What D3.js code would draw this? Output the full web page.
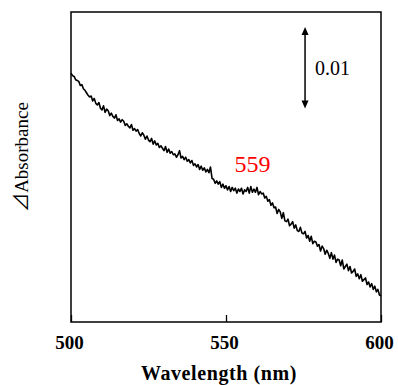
<!DOCTYPE html>
<html>
<head>
<meta charset="utf-8">
<script src="https://cdn.jsdelivr.net/npm/d3@7"></script>
<style>
  body { margin: 0; background: #fff; }
</style>
</head>
<body>
<div id="graph"></div>
<script>
// wavelength axis, 500-600 nm in 0.5 nm steps
let waveStart = 500,
  waveStep = 0.5;

// difference absorbance, in mAbs (x 10^-3)
let dAbs = [
  30.5, 30.2, 30.1, 29.7, 29.6, 29.5, 29.0, 29.1, 28.6, 28.4,
  28.1, 27.8, 27.6, 27.7, 27.1, 27.4, 26.8, 26.6, 26.9, 26.2,
  26.0, 26.5, 25.7, 26.1, 25.9, 25.3, 25.6, 25.2, 25.0, 25.4,
  24.7, 24.9, 24.5, 24.8, 24.6, 24.1, 24.3, 24.0, 23.8, 24.2,
  23.5, 23.7, 23.4, 23.6, 23.1, 22.8, 23.2, 22.9, 22.4, 22.8,
  22.3, 22.1, 22.5, 21.8, 22.2, 21.7, 21.9, 21.4, 21.6, 21.3,
  21.0, 21.5, 20.8, 21.2, 20.7, 20.9, 20.5, 20.6, 20.2, 20.5,
  21.0, 20.1, 20.3, 19.9, 20.2, 19.7, 19.9, 19.5, 19.8, 19.2,
  19.4, 19.0, 19.3, 18.7, 19.1, 18.6, 18.9, 18.4, 18.7, 18.3,
  19.0, 17.6, 17.5, 17.0, 17.3, 16.9, 17.2, 16.5, 16.9, 16.4,
  16.7, 16.2, 16.6, 16.0, 16.5, 16.1, 16.4, 15.8, 16.3, 16.0,
  16.4, 15.7, 16.2, 16.0, 16.5, 15.8, 16.6, 15.9, 16.3, 15.9,
  16.5, 15.6, 16.0, 15.7, 15.8, 15.2, 15.4, 14.8, 15.0, 14.3,
  14.6, 14.0, 14.1, 13.3, 13.8, 13.5, 12.7, 13.4, 12.4, 12.3,
  12.6, 11.8, 12.0, 12.3, 11.5, 11.9, 11.2, 11.1, 11.6, 10.9,
  10.8, 11.1, 10.3, 10.6, 9.9, 10.5, 9.6, 9.9, 9.8, 9.3,
  9.5, 8.7, 9.3, 9.0, 8.3, 8.8, 8.4, 7.8, 8.5, 7.7,
  8.2, 7.3, 7.7, 7.6, 6.9, 7.6, 6.5, 6.8, 7.1, 6.3,
  6.8, 6.0, 6.2, 6.5, 5.6, 5.9, 5.3, 5.8, 5.0, 5.2,
  5.4, 4.6, 4.9, 4.3, 4.7, 4.0, 4.4, 3.7, 4.0, 3.3,
  3.2,
];

let xTicks = [500, 550, 600];
let scaleBarValue = 10; // mAbs, shown as 0.01
let scaleBarLabel = "0.01";
let peakWave = 559;
let peakLabel = "559";

let serif = "Liberation Serif";

let margin = { top: 12, right: 17, bottom: 63, left: 71 },
  width = 398 - margin.left - margin.right,
  height = 385 - margin.top - margin.bottom;

let svg = d3
  .select("#graph")
  .append("svg")
  .attr("width", 398)
  .attr("height", 385)
  .append("g")
  .attr("transform", "translate(" + margin.left + "," + margin.top + ")");

let x = d3.scaleLinear().domain([500, 600]).range([0, width]);
let y = d3.scaleLinear().domain([0, 38]).range([height, 0]);

let points = dAbs.map((v, i) => ({ w: waveStart + i * waveStep, a: v }));

// spectrum
svg
  .append("path")
  .datum(points)
  .attr("fill", "none")
  .attr("stroke", "#000")
  .attr("stroke-width", 1.6)
  .attr("stroke-linejoin", "round")
  .attr("d", d3.line().x((d) => x(d.w)).y((d) => y(d.a)));

// x axis: ticks pointing inward, labels below
let xAxis = svg
  .append("g")
  .attr("transform", "translate(0," + height + ")")
  .call(d3.axisBottom(x).tickValues(xTicks).tickSize(-7).tickPadding(14));
xAxis.select(".domain").remove();
xAxis.selectAll("line").attr("stroke", "#000").attr("stroke-width", 1.3);
xAxis
  .selectAll("text")
  .attr("fill", "#000")
  .attr("dx", -2)
  .style("font-family", serif)
  .style("font-size", "19px")
  .style("font-weight", "bold");

// frame
svg
  .append("rect")
  .attr("width", width)
  .attr("height", height)
  .attr("fill", "none")
  .attr("stroke", "#000")
  .attr("stroke-width", 1.5);

// axis titles
svg
  .append("text")
  .attr("x", width / 2 - 7)
  .attr("y", height + 58)
  .attr("text-anchor", "middle")
  .style("font-family", serif)
  .style("font-size", "20px")
  .style("letter-spacing", "0.6px")
  .style("font-weight", "bold")
  .text("Wavelength (nm)");

let yTitle = svg
  .append("text")
  .attr("transform", "translate(-43," + (height / 2 - 10) + ") rotate(-90)")
  .attr("text-anchor", "middle")
  .style("font-family", serif)
  .style("font-size", "19px");
yTitle.append("tspan").style("font-family", "Noto Sans CJK JP").text("⊿");
yTitle.append("tspan").text("Absorbance");

// scale bar with arrowheads at both ends
let barX = x(575.5),
  barTop = 15,
  barBottom = barTop + (y(0) - y(scaleBarValue));
let head = 8,
  half = 3.5;
svg
  .append("line")
  .attr("x1", barX)
  .attr("x2", barX)
  .attr("y1", barTop + 3)
  .attr("y2", barBottom - 3)
  .attr("stroke", "#000")
  .attr("stroke-width", 1.5);
svg
  .append("path")
  .attr(
    "d",
    `M${barX},${barTop} L${barX - half},${barTop + head} L${barX + half},${barTop + head} Z`
  )
  .attr("fill", "#000");
svg
  .append("path")
  .attr(
    "d",
    `M${barX},${barBottom} L${barX - half},${barBottom - head} L${barX + half},${barBottom - head} Z`
  )
  .attr("fill", "#000");
svg
  .append("text")
  .attr("x", barX + 10)
  .attr("y", 63)
  .style("font-family", serif)
  .style("font-size", "20px")
  .text(scaleBarLabel);

// peak label
svg
  .append("text")
  .attr("x", x(peakWave) - 1.5)
  .attr("y", 159.5)
  .attr("text-anchor", "middle")
  .attr("fill", "#ff0000")
  .style("font-family", serif)
  .style("font-size", "24px")
  .text(peakLabel);
</script>
</body>
</html>
